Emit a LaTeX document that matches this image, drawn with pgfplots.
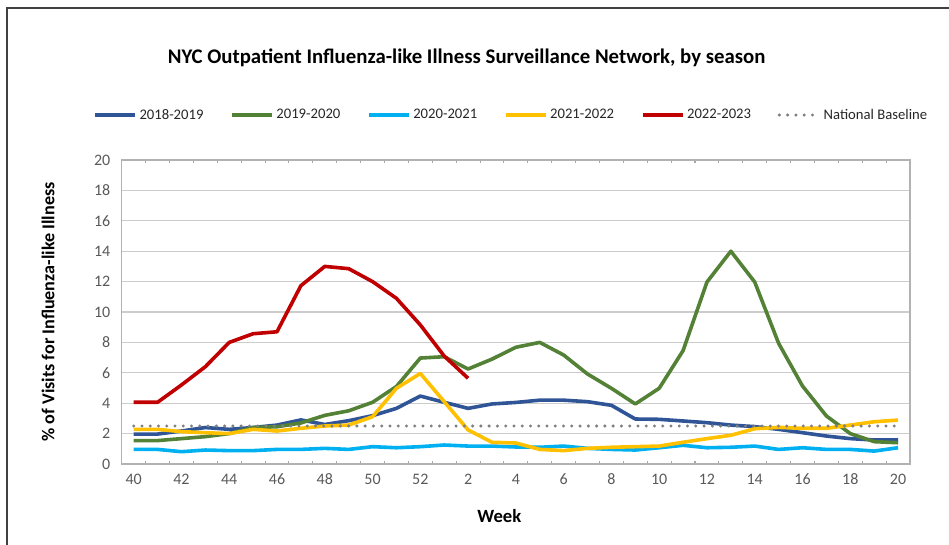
\documentclass[border=0pt]{standalone}
\usepackage{fontspec}
\setmainfont{Carlito}
\usepackage{pgfplots}
\pgfplotsset{compat=1.18}
\definecolor{cA}{HTML}{2F5597}
\definecolor{cB}{HTML}{538135}
\definecolor{cC}{HTML}{00B0F0}
\definecolor{cD}{HTML}{FFC000}
\definecolor{cE}{HTML}{C00000}
\definecolor{cBase}{HTML}{7F7F7F}
\definecolor{tick}{HTML}{595959}
\begin{document}
\begin{tikzpicture}[x=1pt,y=1pt]
\useasboundingbox (0,0) rectangle (711.75,408);
\draw[line width=1.3pt, color=black!75] (5.25,-3) -- (5.25,402) -- (715,402);
\node[font=\bfseries\fontsize{15.6}{18}\selectfont] at (350,365) {NYC Outpatient Influenza-like Illness Surveillance Network, by season};
\begin{axis}[
  at={(91.3pt,60pt)}, anchor=south west,
  scale only axis, width=591.2pt, height=228pt,
  xmin=-0.5, xmax=32.5, ymin=0, ymax=20,
  ytick={0,2,...,20},
  xtick={0,2,...,32},
  xticklabels={40,42,44,46,48,50,52,2,4,6,8,10,12,14,16,18,20},
  minor xtick={-0.5,0.5,...,32.5},
  major tick length=0pt, minor tick length=2.6pt, tick align=inside,
  minor tick style={gray!70, line width=0.8pt},
  ymajorgrids, grid style={gray!40, line width=0.8pt},
  axis line style={gray!60, line width=0.8pt},
  /pgf/number format/assume math mode=true,
  tick label style={font=\fontsize{12}{14}\selectfont, text=tick},
  xticklabel style={yshift=-4pt},
  yticklabel style={xshift=-5pt},
  xlabel={\bfseries Week},
  ylabel={\bfseries \% of Visits for Influenza-like Illness},
  xlabel style={at={(axis description cs:0.479,0)}, anchor=center, yshift=-39pt, font=\fontsize{14}{16}\selectfont},
  ylabel style={at={(axis description cs:-0.0935,0.5)}, anchor=center, font=\fontsize{13.6}{16}\selectfont},
  legend columns=6,
  legend style={at={(0.4945,1.148)}, anchor=center, draw=none, fill=none,
    font=\fontsize{11}{13}\selectfont, text=black!85,
    /tikz/every even column/.append style={column sep=18pt}},
  legend image code/.code={\draw[#1] (0pt,0pt) -- (30pt,0pt);},
  every axis plot/.append style={line width=2.7pt, line join=round},
]
\addplot[cA] coordinates {(0,1.97)(1,1.97)(2,2.17)(3,2.4)(4,2.28)(5,2.4)(6,2.56)(7,2.9)(8,2.6)(9,2.85)(10,3.18)(11,3.66)(12,4.47)(13,4.06)(14,3.66)(15,3.95)(16,4.05)(17,4.2)(18,4.2)(19,4.1)(20,3.86)(21,2.96)(22,2.94)(23,2.83)(24,2.72)(25,2.56)(26,2.46)(27,2.28)(28,2.06)(29,1.84)(30,1.67)(31,1.58)(32,1.58)};
\addlegendentry{2018-2019}
\addplot[cB] coordinates {(0,1.54)(1,1.54)(2,1.67)(3,1.8)(4,2.0)(5,2.4)(6,2.45)(7,2.7)(8,3.2)(9,3.5)(10,4.06)(11,5.1)(12,6.97)(13,7.06)(14,6.25)(15,6.9)(16,7.68)(17,8.0)(18,7.17)(19,5.92)(20,4.98)(21,3.95)(22,4.98)(23,7.46)(24,11.97)(25,14.0)(26,11.97)(27,7.94)(28,5.13)(29,3.16)(30,2.0)(31,1.47)(32,1.40)};
\addlegendentry{2019-2020}
\addplot[cC] coordinates {(0,0.96)(1,0.96)(2,0.81)(3,0.92)(4,0.88)(5,0.88)(6,0.96)(7,0.96)(8,1.03)(9,0.96)(10,1.14)(11,1.07)(12,1.14)(13,1.25)(14,1.18)(15,1.18)(16,1.12)(17,1.1)(18,1.18)(19,1.03)(20,0.96)(21,0.92)(22,1.07)(23,1.23)(24,1.07)(25,1.1)(26,1.18)(27,0.96)(28,1.07)(29,0.96)(30,0.96)(31,0.85)(32,1.07)};
\addlegendentry{2020-2021}
\addplot[cD] coordinates {(0,2.28)(1,2.28)(2,2.13)(3,2.06)(4,2.0)(5,2.28)(6,2.17)(7,2.35)(8,2.5)(9,2.56)(10,3.11)(11,4.98)(12,5.96)(13,4.1)(14,2.24)(15,1.43)(16,1.38)(17,0.96)(18,0.88)(19,1.03)(20,1.1)(21,1.14)(22,1.18)(23,1.43)(24,1.67)(25,1.89)(26,2.32)(27,2.41)(28,2.35)(29,2.35)(30,2.56)(31,2.78)(32,2.89)};
\addlegendentry{2021-2022}
\addplot[cE] coordinates {(0,4.06)(1,4.06)(2,5.2)(3,6.4)(4,8.0)(5,8.57)(6,8.7)(7,11.73)(8,13.0)(9,12.85)(10,12.0)(11,10.9)(12,9.15)(13,7.1)(14,5.64)};
\addlegendentry{2022-2023}
\addplot[cBase, line width=2.5pt, line cap=round, dash pattern=on 0pt off 6.2pt] coordinates {(0,2.5)(32,2.5)};
\addlegendentry{National Baseline}
\end{axis}
\end{tikzpicture}
\end{document}
